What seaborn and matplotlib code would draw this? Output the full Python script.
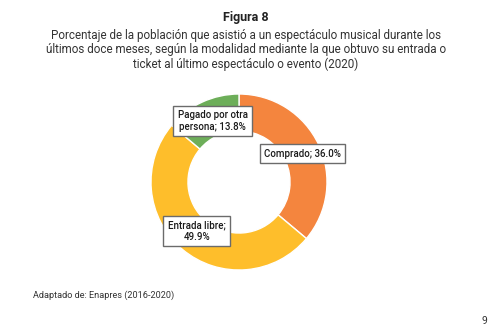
import matplotlib
matplotlib.use("Agg")
import matplotlib.pyplot as plt
import seaborn as sns

categories = ["Comprado", "Entrada libre", "Pagado por otra\npersona"]
values = [36.0, 49.9, 13.8]
label_texts = ["Comprado; 36.0%", "Entrada libre;\n49.9%", "Pagado por otra\npersona; 13.8%"]
colors = ["#F4853E", "#FEBE2B", "#6DAE59"]

sns.set_theme(style="white")
plt.rcParams['font.family'] = ['Roboto', 'DejaVu Sans']

W, H = 496, 334
fig = plt.figure(figsize=(W / 100, H / 100), dpi=100)
fig.patch.set_facecolor("white")

cx, cy, r = 239, 182, 88
ax = fig.add_axes([(cx - r) / W, (H - cy - r) / H, 2 * r / W, 2 * r / H])
wedges, _ = ax.pie(values, colors=colors, startangle=90, counterclock=False,
                   radius=1.0, wedgeprops=dict(width=0.42, edgecolor="white", linewidth=1.0))
ax.set_xlim(-1, 1)
ax.set_ylim(-1, 1)
ax.set_aspect("equal")
ax.axis("off")

label_pos = [(0.72, 0.32), (-0.48, -0.56), (-0.30, 0.69)]
for (x, y), t in zip(label_pos, label_texts):
    ax.text(x, y, t, ha="center", va="center", fontsize=7, color="#1a1a1a",
            linespacing=1.2, fontweight="medium",
            bbox=dict(boxstyle="square,pad=0.45", facecolor="white", edgecolor="#6b6b6b", linewidth=1.0),
            clip_on=False, zorder=5)

tcx = 246 / W
fig.text(tcx, 1 - 18 / H, "Figura 8", ha="center", va="center",
         fontsize=9, fontweight="bold", color="#222222")
fig.text(tcx, 1 - 50 / H,
         "Porcentaje de la población que asistió a un espectáculo musical durante los\n"
         "últimos doce meses, según la modalidad mediante la que obtuvo su entrada o\n"
         "ticket al último espectáculo o evento (2020)",
         ha="center", va="center", fontsize=8.4, color="#333333", linespacing=1.17)
fig.text(33 / W, 1 - 295 / H, "Adaptado de: Enapres (2016-2020)", ha="left", va="center",
         fontsize=6.6, color="#333333")
fig.text(484 / W, 1 - 321 / H, "9", ha="center", va="center", fontsize=7.5, color="#333333")

fig.savefig("out.png", dpi=100, facecolor="white")
